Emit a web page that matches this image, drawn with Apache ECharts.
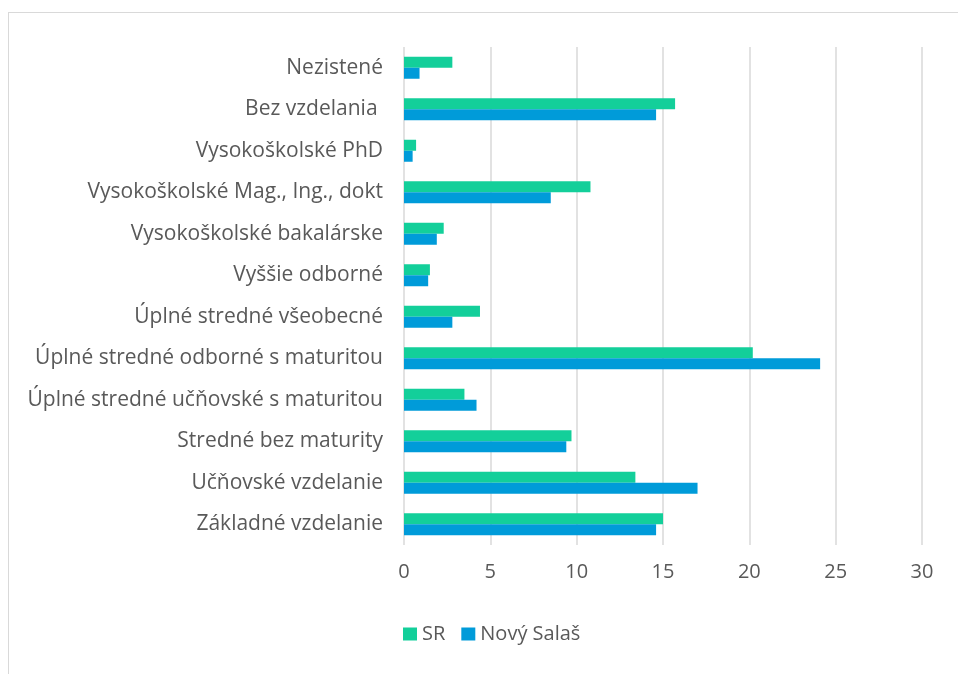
<!DOCTYPE html>
<html>
<head>
<meta charset="utf-8">
<script src="https://cdn.jsdelivr.net/npm/echarts@6/dist/echarts.min.js"></script>
<style>
  html, body { margin: 0; padding: 0; background: #fff; }
  #frame {
    position: absolute; left: 8px; top: 12px; width: 960px; height: 680px;
    border-left: 1.5px solid #d9d9d9; border-top: 1.5px solid #d9d9d9;
  }
  #chart { position: absolute; left: 0; top: 0; width: 958px; height: 674px; }
</style>
</head>
<body>
<div id="frame"></div>
<div id="chart"></div>
<script>
// kategórie zdola nahor
const categories = [
  'Základné vzdelanie',
  'Učňovské vzdelanie',
  'Stredné bez maturity',
  'Úplné stredné učňovské s maturitou',
  'Úplné stredné odborné s maturitou',
  'Úplné stredné všeobecné',
  'Vyššie odborné',
  'Vysokoškolské bakalárske',
  'Vysokoškolské Mag., Ing., dokt',
  'Vysokoškolské PhD',
  'Bez vzdelania ',
  'Nezistené'
]
const srValues = [15.0, 13.4, 9.7, 3.5, 20.2, 4.4, 1.5, 2.3, 10.8, 0.7, 15.7, 2.8]
const salasValues = [14.6, 17.0, 9.4, 4.2, 24.1, 2.8, 1.4, 1.9, 8.5, 0.5, 14.6, 0.9]
const xTicks = { min: 0, max: 30, interval: 5 }

const font = '"Open Sans", sans-serif'
const textColor = '#595959'

const chart = echarts.init(document.getElementById('chart'))
chart.setOption({
  animation: false,
  legend: {
    left: 398,
    top: 619,
    itemWidth: 14,
    itemHeight: 13,
    itemGap: 16,
    icon: 'rect',
    textStyle: { fontFamily: font, fontSize: 20, color: textColor },
    data: ['SR', 'Nový Salaš']
  },
  grid: { left: 404, right: 36, top: 47, bottom: 129, containLabel: false },
  xAxis: {
    type: 'value',
    min: xTicks.min,
    max: xTicks.max,
    interval: xTicks.interval,
    axisLine: { show: false },
    axisTick: { show: false },
    axisLabel: { fontFamily: font, fontSize: 20, color: textColor, margin: 17 },
    splitLine: { lineStyle: { color: '#d9d9d9', width: 1.5 } }
  },
  yAxis: {
    type: 'category',
    data: categories,
    axisLine: { show: false },
    axisTick: { show: false },
    axisLabel: { fontFamily: font, fontSize: 21, color: textColor, margin: 21, padding: [3, 0, 0, 0] }
  },
  series: [
    {
      name: 'SR',
      type: 'bar',
      data: srValues,
      barWidth: 11,
      barGap: '0%',
      itemStyle: { color: '#13cf9a' }
    },
    {
      name: 'Nový Salaš',
      type: 'bar',
      data: salasValues,
      barWidth: 11,
      barGap: '0%',
      itemStyle: { color: '#009bd9' }
    }
  ]
})
</script>
</body>
</html>
